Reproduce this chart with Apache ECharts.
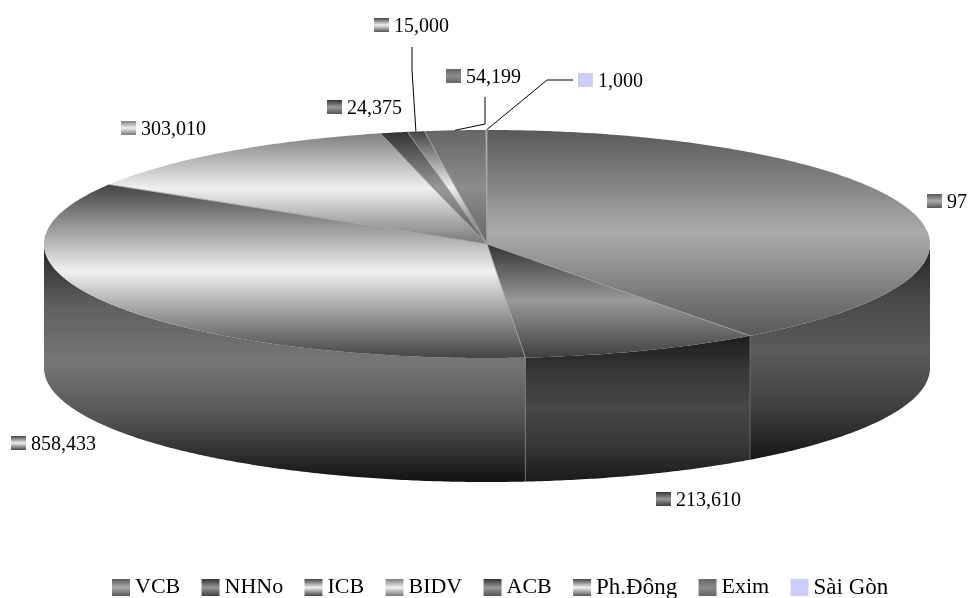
<!DOCTYPE html>
<html>
<head>
  <meta charset="utf-8">
  <script src="https://cdn.jsdelivr.net/npm/echarts@6/dist/echarts.min.js"></script>
  <style>
    html, body { margin: 0; padding: 0; background: #fff; }
    #main { width: 968px; height: 598px; }
  </style>
</head>
<body>
<div id="main"></div>
<script>
  const categories = ['VCB', 'NHNo', 'ICB', 'BIDV', 'ACB', 'Ph.Đông', 'Exim', 'Sài Gòn'];
  const values = [975000, 213610, 858433, 303010, 24375, 15000, 54199, 1000];

  // top face colours, top / middle / bottom of each slice
  const topColors = [
    ['#595959', '#ababab', '#595959'],
    ['#333333', '#999999', '#404040'],
    ['#444444', '#f0f0f0', '#444444'],
    ['#808080', '#f0f0f0', '#777777'],
    ['#333333', '#999999', '#555555'],
    ['#444444', '#f0f0f0', '#555555'],
    ['#666666', '#8c8c8c', '#666666'],
    ['#ccccff', '#ccccff', '#ccccff']
  ];
  // side walls, with the quarter stops since they are not quite linear
  const sideColors = [
    ['#222222', '#484848', '#5a5a5a', '#414141', '#161616'],
    ['#1c1c1c', '#383838', '#474747', '#373737', '#1a1a1a'],
    ['#222222', '#5e5e5e', '#777777', '#505050', '#111111']
  ];

  // two of the legend names run a little wider in the picture
  const legendFontSizes = [22, 22, 22, 22, 22, 23, 22, 23];
  // label key top-left corners
  const labelSpots = [[927, 194], [656, 492], [11, 436], [121, 121], [327, 100], [374, 18], [446, 69], [578, 73]];
  // leader lines, the last point is worked out from the slice
  const leaderBends = [null, null, null, null, null, [[412, 47], [412, 70]], [[485, 97], [485, 124]], [[573, 80], [547, 80]]];

  const CX = 487, CY = 244, RX = 443, RY = 114, DEPTH = 124;
  const FONT = '20px "Liberation Serif"';
  const total = values.reduce((a, b) => a + b, 0);

  function vGradient(c) {
    return new echarts.graphic.LinearGradient(0, 0, 0, 1,
      c.map((color, i) => ({ offset: i / (c.length - 1), color: color })));
  }

  // angle in degrees, clockwise from 12 o'clock
  function rim(deg, dy) {
    const r = deg * Math.PI / 180;
    return [CX + RX * Math.sin(r), CY - RY * Math.cos(r) + (dy || 0)];
  }

  function arc(a0, a1, dy) {
    const pts = [];
    const n = Math.max(2, Math.ceil((a1 - a0) * 2));
    for (let i = 0; i <= n; i++) pts.push(rim(a0 + (a1 - a0) * i / n, dy));
    return pts;
  }

  function edge(p, q, stroke, width) {
    return {
      type: 'line',
      silent: true,
      z2: 5,
      shape: { x1: p[0], y1: p[1], x2: q[0], y2: q[1] },
      style: { stroke: stroke, lineWidth: width }
    };
  }

  function renderSlice(params, api) {
    const idx = params.seriesIndex;
    let before = 0;
    for (let i = 0; i < idx; i++) before += values[i];
    const a0 = before / total * 360;
    const a1 = (before + api.value(0)) / total * 360;
    const children = [];

    // side wall, only the front half shows
    const s0 = Math.max(a0, 90), s1 = Math.min(a1, 270);
    if (s1 > s0) {
      children.push({
        type: 'polygon',
        silent: true,
        z2: 1,
        shape: { points: arc(s0, s1, 0).concat(arc(s0, s1, DEPTH).reverse()) },
        style: { fill: vGradient(sideColors[idx]) }
      });
    }
    if (a0 > 90 && a0 < 270) children.push(edge(rim(a0, 0), rim(a0, DEPTH), '#7a7a7a', 0.75));

    // top face
    children.push({
      type: 'polygon',
      silent: true,
      z2: 2,
      shape: { points: [[CX, CY]].concat(arc(a0, a1, 0)) },
      style: { fill: vGradient(topColors[idx]) }
    });
    children.push(edge([CX, CY], rim(a0, 0), '#a0a0a0', 0.5));
    children.push(edge([CX, CY], rim(a1, 0), '#a0a0a0', 0.5));

    // leader line
    if (leaderBends[idx]) {
      children.push({
        type: 'polyline',
        silent: true,
        z2: 6,
        shape: { points: leaderBends[idx].concat([rim((a0 + a1) / 2, 0)]) },
        style: { stroke: '#000', lineWidth: 1, fill: 'none' }
      });
    }

    // label with its key
    const spot = labelSpots[idx];
    children.push({
      type: 'rect',
      silent: true,
      z2: 6,
      shape: { x: spot[0], y: spot[1], width: 15, height: 14 },
      style: { fill: vGradient(topColors[idx]) }
    });
    children.push({
      type: 'text',
      silent: true,
      z2: 6,
      style: {
        x: spot[0] + 20,
        y: spot[1] + 9,
        text: api.value(0).toLocaleString('en-US'),
        font: FONT,
        fill: '#000',
        verticalAlign: 'middle'
      }
    });
    return { type: 'group', children: children };
  }

  const myChart = echarts.init(document.getElementById('main'), null, { renderer: 'canvas' });
  myChart.setOption({
    animation: false,
    backgroundColor: '#fff',
    legend: {
      data: categories.map((name, i) => ({ name: name, textStyle: { fontSize: legendFontSizes[i] } })),
      left: 112,
      top: 576,
      padding: 0,
      itemWidth: 18,
      itemHeight: 17,
      itemGap: 21.3,
      icon: 'rect',
      textStyle: { fontFamily: 'Liberation Serif', fontSize: 22, color: '#000' }
    },
    series: categories.map((name, i) => ({
      name: name,
      type: 'custom',
      coordinateSystem: 'none',
      silent: true,
      itemStyle: { color: vGradient(topColors[i]) },
      renderItem: renderSlice,
      data: [[values[i]]]
    }))
  });
</script>
</body>
</html>
